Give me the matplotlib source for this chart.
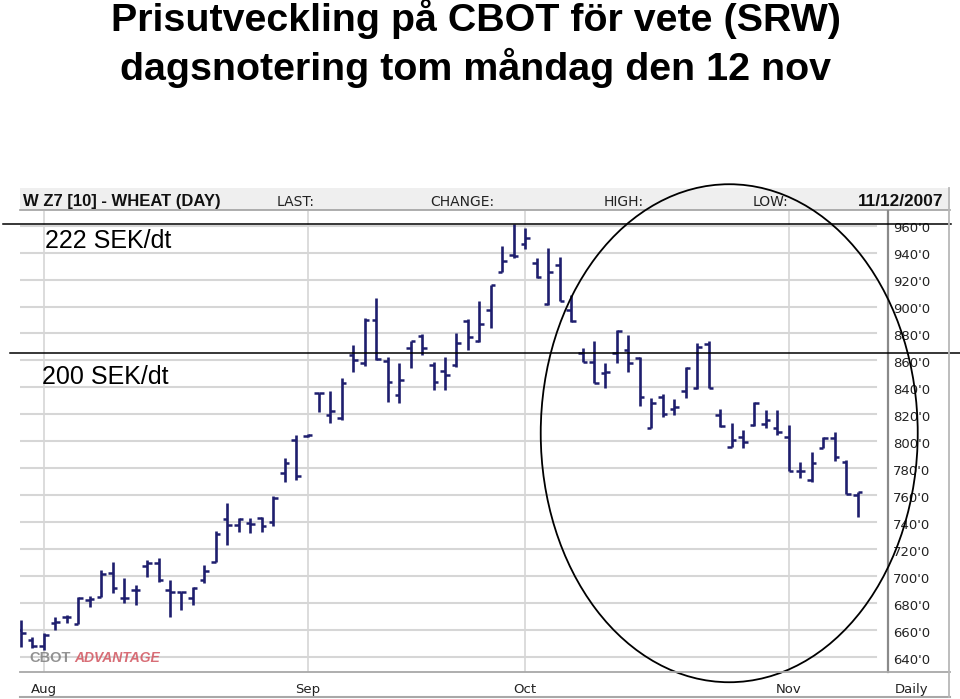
import numpy as np
import pandas as pd
import matplotlib
matplotlib.use("Agg")
import matplotlib.pyplot as plt
import matplotlib.transforms as mtransforms
from matplotlib.patches import Rectangle, Ellipse
from matplotlib.lines import Line2D

# ---------------- data ----------------
dates = [d for d in pd.bdate_range("2007-07-30", "2007-11-09") if d != pd.Timestamp("2007-09-03")]

opens = [660.0, 652.6, 648.2, 665.0, 669.5, 664.5, 682.0, 684.7, 702.1, 683.5,
         689.7, 707.5, 710.0, 689.7, 688.0, 683.5, 697.1, 710.7, 742.1, 737.9,
         739.6, 742.9, 740.4, 776.7, 801.0, 804.0, 835.6, 819.5, 817.5, 864.0,
         857.9, 890.0, 859.6, 834.4, 869.0, 878.4, 856.6, 852.2, 856.6, 889.3,
         874.4, 897.4, 925.8, 938.0, 946.2, 932.0, 901.6, 930.8, 897.4, 865.3,
         859.1, 850.5, 865.3, 867.7, 861.6, 809.7, 832.7, 823.8, 837.6, 839.3,
         872.2, 819.5, 796.0, 803.4, 812.1, 812.6, 809.7, 803.4, 778.0, 771.3,
         795.3, 802.7, 784.9, 760.2]
highs = [667.4, 655.1, 658.0, 669.4, 671.2, 684.7, 685.3, 704.5, 710.7, 698.4,
         693.4, 712.0, 713.7, 697.1, 688.4, 692.2, 708.2, 733.7, 754.0, 742.9,
         742.9, 744.1, 759.4, 787.4, 804.7, 805.5, 835.6, 837.3, 846.7, 871.5,
         891.3, 906.5, 862.8, 857.9, 874.4, 879.4, 859.1, 862.8, 880.1, 890.7,
         904.1, 916.0, 945.1, 961.0, 958.0, 936.2, 943.2, 937.0, 908.5, 869.2,
         874.7, 858.3, 882.6, 878.9, 862.3, 831.9, 835.1, 831.2, 854.9, 872.7,
         874.7, 823.8, 813.4, 808.4, 829.4, 823.2, 823.2, 812.1, 784.9, 791.9,
         803.4, 807.1, 786.1, 762.6]
lows = [647.6, 646.4, 645.2, 660.0, 665.0, 664.2, 677.3, 684.7, 687.3, 679.8,
        678.6, 699.6, 695.9, 669.9, 674.9, 678.6, 695.1, 710.7, 723.1, 733.0,
        732.2, 733.0, 737.2, 770.0, 771.3, 803.5, 822.0, 813.4, 815.8, 851.2,
        856.1, 860.3, 829.4, 828.2, 854.2, 864.0, 838.1, 838.1, 855.4, 867.7,
        873.9, 883.8, 925.4, 935.8, 942.7, 921.4, 901.1, 904.1, 888.7, 858.8,
        843.0, 839.3, 858.3, 851.7, 826.2, 809.7, 817.8, 819.5, 831.9, 838.6,
        839.3, 810.8, 796.0, 795.3, 811.6, 809.7, 804.7, 778.0, 773.0, 769.6,
        795.3, 785.4, 760.7, 744.1]
closes = [657.6, 648.1, 656.3, 666.2, 669.5, 684.0, 683.0, 701.4, 691.0, 683.5,
          689.7, 710.0, 697.1, 688.0, 688.0, 691.0, 704.0, 731.2, 737.9, 742.1,
          738.7, 737.2, 757.7, 784.1, 774.3, 805.0, 835.6, 822.5, 843.5, 860.3,
          890.0, 861.1, 844.2, 845.5, 874.4, 869.0, 844.2, 849.2, 873.2, 877.6,
          886.8, 916.0, 933.8, 937.3, 951.1, 922.1, 925.8, 904.1, 889.3, 859.1,
          843.5, 851.7, 882.1, 857.9, 832.7, 828.2, 820.3, 825.3, 854.2, 870.2,
          839.3, 811.4, 801.0, 799.7, 828.2, 815.8, 806.7, 778.0, 778.0, 783.7,
          802.7, 788.6, 760.7, 762.2]

month_labels = ["Aug", "Sep", "Oct", "Nov"]
price_levels = list(range(640, 961, 20))
price_labels = [f"{p}'0" for p in price_levels]
sek_levels = [961.0, 865.3]
sek_labels = ["222 SEK/dt", "200 SEK/dt"]

title1 = "Prisutveckling på CBOT för vete (SRW)"
title2 = "dagsnotering tom måndag den 12 nov"

# ---------------- figure ----------------
W, H = 960, 699
fig = plt.figure(figsize=(W / 100, H / 100), dpi=100)
fig.patch.set_facecolor("white")

def fx(px):
    return px / W

def fy(py):
    return 1 - py / H

ax_l, ax_r, ax_t, ax_b = 20, 887.7, 211, 671.7
ax = fig.add_axes([fx(ax_l), fy(ax_b), fx(ax_r - ax_l), (ax_b - ax_t) / H])
n = len(dates)
x = np.arange(n)
px_per_bar = 11.46
px_per_unit = 1.348
x0 = (ax_l - 21) / px_per_bar
ax.set_xlim(x0, x0 + (ax_r - ax_l) / px_per_bar)
ax.set_ylim(640 - (ax_b - 657) / px_per_unit, 640 + (657 - ax_t) / px_per_unit)
for s in ["top", "left", "bottom"]:
    ax.spines[s].set_visible(False)
ax.spines["right"].set_color("#8a8a8a")
ax.spines["right"].set_linewidth(1.6)
ax.set_xticks([])
ax.set_yticks([])

grid_c = "#d6d6d6"
for p in price_levels:
    ax.axhline(p, xmin=0, xmax=(876 - ax_l) / (ax_r - ax_l), color=grid_c, lw=1.5, zorder=0)

# first trading day of each month
month_pos = []
prev = None
for i, d in enumerate(dates):
    if d.month != prev:
        if d.day <= 5 and d.month in (8, 9, 10, 11):
            month_pos.append(i)
        prev = d.month
for m in month_pos:
    ax.axvline(m, color=grid_c, lw=1.2, zorder=0)

# OHLC bars
bar_c = "#1e1e6e"
tick = 0.4
ax.vlines(x, lows, highs, color=bar_c, lw=1.9, zorder=3)
ax.hlines(opens, x - tick, x, color=bar_c, lw=1.8, zorder=3)
ax.hlines(closes, x, x + tick, color=bar_c, lw=1.8, zorder=3)

# y labels on the right
lab_trans = mtransforms.blended_transform_factory(fig.transFigure, ax.transData) + \
    mtransforms.ScaledTranslation(0, -3 / 100, fig.dpi_scale_trans)
for p, lab in zip(price_levels, price_labels):
    ax.text(fx(893), p, lab, transform=lab_trans, ha="left", va="center",
            fontsize=9.5, color="#222222", family="DejaVu Sans", clip_on=False)

# month labels
mtrans = mtransforms.blended_transform_factory(ax.transData, fig.transFigure)
for m, lab in zip(month_pos, month_labels):
    ax.text(m, fy(693), lab, transform=mtrans, ha="center", va="baseline",
            fontsize=9.5, color="#222222", family="DejaVu Sans", clip_on=False)
fig.text(fx(912), fy(693), "Daily", ha="center", va="baseline", fontsize=9.5,
         color="#222222", family="DejaVu Sans")

# frame lines
fig.add_artist(Line2D([fx(20), fx(950)], [fy(671.7), fy(671.7)], color="#a8a8a8", lw=1.3))
fig.add_artist(Line2D([fx(20), fx(950)], [fy(697), fy(697)], color="#a8a8a8", lw=1.5))
fig.add_artist(Line2D([fx(949.3), fx(949.3)], [fy(188), fy(697)], color="#b8b8b8", lw=1.3))

# header band
fig.add_artist(Rectangle((fx(20), fy(210)), fx(930), 22 / H, transform=fig.transFigure,
                         facecolor="#efefef", edgecolor="none", zorder=-2))
fig.add_artist(Line2D([fx(20), fx(950)], [fy(210), fy(210)], color="#a0a0a0", lw=1.2, zorder=-1))
hdr_y = fy(206)
fig.text(fx(23), hdr_y, "W Z7 [10] - WHEAT (DAY)", ha="left", va="baseline",
         fontsize=12, fontweight="bold", family="Liberation Sans", color="#111111")
fig.text(fx(943), hdr_y, "11/12/2007", ha="right", va="baseline",
         fontsize=12.4, fontweight="bold", family="Liberation Sans", color="#111111")
for xx, t in [(277, "LAST:"), (430, "CHANGE:"), (604, "HIGH:"), (753, "LOW:")]:
    fig.text(fx(xx), hdr_y, t, ha="left", va="baseline", fontsize=10,
             family="DejaVu Sans", color="#222222")

# watermark
fig.text(fx(29), fy(662), "CBOT", ha="left", va="baseline", fontsize=10.5, fontweight="bold",
         family="Liberation Sans", color="#808080", alpha=0.85)
fig.text(fx(74), fy(662), "ADVANTAGE", ha="left", va="baseline", fontsize=10, fontweight="bold",
         style="italic", family="Liberation Sans", color="#d2555f", alpha=0.85)

# titles
fig.text(fx(476), fy(31), title1, ha="center", va="baseline", fontsize=28.4,
         fontweight="bold", family="Liberation Sans", color="black")
fig.text(fx(476), fy(80), title2, ha="center", va="baseline", fontsize=28.4,
         fontweight="bold", family="Liberation Sans", color="black")

# SEK reference lines and labels
ftrans = mtransforms.blended_transform_factory(fig.transFigure, ax.transData)
ax.plot([fx(3), fx(951)], [sek_levels[0]] * 2, transform=ftrans, color="black",
        lw=1.1, clip_on=False, zorder=6)
ax.plot([fx(10), fx(960)], [sek_levels[1]] * 2, transform=ftrans, color="black",
        lw=1.1, clip_on=False, zorder=6)
fig.text(fx(45), fy(248), sek_labels[0], ha="left", va="baseline", fontsize=18,
         family="Liberation Sans", color="black")
fig.text(fx(42), fy(384), sek_labels[1], ha="left", va="baseline", fontsize=18,
         family="Liberation Sans", color="black")

# ellipse highlight
ell = Ellipse((61.8, 806.0), width=377 / px_per_bar, height=498 / px_per_unit,
              fill=False, edgecolor="black", lw=1.3, clip_on=False, zorder=7)
ax.add_patch(ell)

fig.savefig("out.png", dpi=100)
